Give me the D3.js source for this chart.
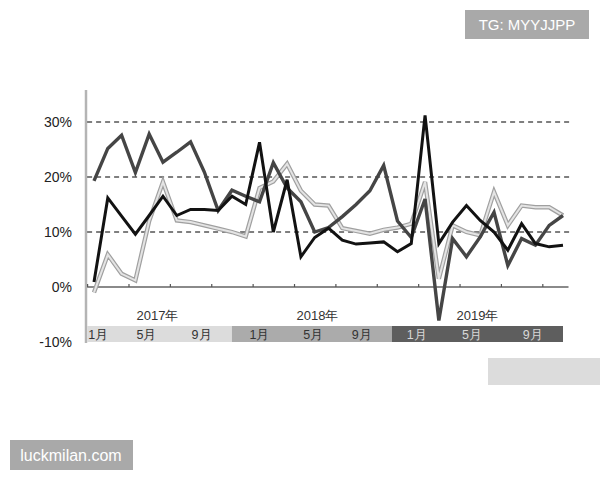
<!DOCTYPE html>
<html>
<head>
<meta charset="utf-8">
<script src="https://cdn.jsdelivr.net/npm/d3@7"></script>
<style>
  body { margin: 0; background: #fff; }
  svg { display: block; font-family: 'Liberation Sans', Arial, sans-serif; }
</style>
</head>
<body>
<svg width="600" height="480"></svg>
<script>
// month index 0 = 2017年1月 ... 34 = 2019年11月
let seriesDark = [19.3, 25.2, 27.6, 20.8, 27.8, 22.7, 24.5, 26.4, 20.9, 13.9, 17.6, 16.5,
  15.5, 22.6, 18, 15.5, 10, 10.8, 12.8, 15, 17.5, 22.1, 12, 9,
  16, -6.1, 8.8, 5.5, 9.1, 13.6, 3.9, 8.8, 7.6, 11.2, 13]
let seriesBlack = [0.9, 16.2, 12.9, 9.6, 13, 16.5, 13, 14.1, 14.1, 13.9, 16.5, 15,
  26.3, 10, 19.5, 5.5, 9, 10.7, 8.5, 7.8, 8, 8.2, 6.4, 7.9,
  31.2, 7.9, 11.8, 14.8, 12.1, 10, 6.7, 11.5, 7.9, 7.3, 7.6]
let seriesLight = [-1, 5.9, 2.4, 1.2, 12, 19.1, 12.1, 11.8, 11.2, 10.6, 10, 9.2,
  18, 19.2, 22.4, 17.5, 15, 14.8, 10.7, 10.2, 9.7, 10.4, 10.8, 11.5,
  19.1, 1.5, 11.2, 10, 9.4, 17.3, 11.2, 14.8, 14.5, 14.5, 13]

let yTicks = [30, 20, 10, 0, -10]
let gridTicks = [30, 20, 10]
let years = ['2017年', '2018年', '2019年']
let yearLabelAt = [4.6, 16.2, 27.8]
let yearBands = [[-0.5, 10], [10, 21.6], [21.6, 34]]
let monthLabels = ['1月', '5月', '9月']
let monthLabelAt = [[0.3, 3.8, 7.8], [12, 15.9, 19.4], [23.4, 27.4, 31.8]]
let quarterTicks = d3.range(-0.5, 33, 3)

let margin = { top: 90, left: 87, right: 30 }

let xScale = d3.scaleLinear()
  .domain([0, 34])
  .range([94, 563])

let yScale = d3.scaleLinear()
  .domain([-10, 30])
  .range([342, 122])

let svg = d3.select('svg')

// left axis bar
svg.append('line')
  .attr('x1', 86).attr('x2', 86)
  .attr('y1', margin.top).attr('y2', yScale(-10) + 1)
  .attr('stroke', '#b4b4b4')
  .attr('stroke-width', 2.5)

// dashed gridlines
svg.append('g')
  .selectAll('line')
  .data(gridTicks)
  .join('line')
  .attr('x1', xScale(-0.5)).attr('x2', xScale(34.5))
  .attr('y1', d => yScale(d)).attr('y2', d => yScale(d))
  .attr('stroke', '#555')
  .attr('stroke-width', 1.4)
  .attr('stroke-dasharray', '5,4')

// zero line with quarter ticks
let xAxis = d3.axisBottom(xScale)
  .tickValues(quarterTicks)
  .tickSize(-3)
  .tickFormat('')
let xg = svg.append('g')
  .attr('transform', 'translate(' + [0, yScale(0)] + ')')
  .call(xAxis)
xg.select('.domain')
  .attr('d', 'M' + xScale(-0.5) + ',0H' + xScale(34.4))
  .attr('stroke', '#8a8a8a')
  .attr('stroke-width', 2.2)
xg.selectAll('.tick line').attr('stroke', '#555').attr('stroke-width', 1.2)

// y labels
let yAxis = d3.axisLeft(yScale)
  .tickValues(yTicks)
  .tickSize(0)
  .tickPadding(0)
  .tickFormat(d => d + '%')
let yg = svg.append('g')
  .attr('transform', 'translate(' + [72, 0] + ')')
  .call(yAxis)
yg.select('.domain').remove()
yg.selectAll('text')
  .attr('font-size', 14)
  .attr('fill', '#222')
  .attr('font-family', "'Liberation Sans', Arial, sans-serif")

// year bands under the chart
let bandFill = ['#dcdcdc', '#ababab', '#5e5e5e']
let bandText = ['#333', '#333', '#d8d8d8']
svg.append('g')
  .selectAll('rect')
  .data(yearBands)
  .join('rect')
  .attr('x', d => xScale(d[0]))
  .attr('width', d => xScale(d[1]) - xScale(d[0]))
  .attr('y', 326)
  .attr('height', 16)
  .attr('fill', (d, i) => bandFill[i])

monthLabelAt.forEach((pos, yi) => {
  svg.append('g')
    .selectAll('text')
    .data(pos)
    .join('text')
    .attr('x', d => xScale(d))
    .attr('y', 339)
    .attr('text-anchor', 'middle')
    .attr('font-size', 12.5)
    .attr('fill', bandText[yi])
    .text((d, i) => monthLabels[i])
})

svg.append('g')
  .selectAll('text')
  .data(years)
  .join('text')
  .attr('x', (d, i) => xScale(yearLabelAt[i]))
  .attr('y', 320)
  .attr('text-anchor', 'middle')
  .attr('font-size', 13)
  .attr('fill', '#333')
  .text(d => d)

// lines
let line = d3.line()
  .x((d, i) => xScale(i))
  .y(d => yScale(d))

let plot = svg.append('g')
  .attr('fill', 'none')
  .attr('stroke-linejoin', 'miter')

plot.append('path')
  .attr('d', line(seriesLight))
  .attr('stroke', '#a0a0a0')
  .attr('stroke-width', 4.4)
plot.append('path')
  .attr('d', line(seriesLight))
  .attr('stroke', '#e4e4e4')
  .attr('stroke-width', 2)

plot.append('path')
  .attr('d', line(seriesDark))
  .attr('stroke', '#454545')
  .attr('stroke-width', 3.4)

plot.append('path')
  .attr('d', line(seriesBlack))
  .attr('stroke', '#121212')
  .attr('stroke-width', 3)

// grey block bottom right
svg.append('rect')
  .attr('x', 488).attr('y', 358)
  .attr('width', 112).attr('height', 27)
  .attr('fill', '#dcdcdc')

// watermarks
svg.append('rect')
  .attr('x', 465).attr('y', 10)
  .attr('width', 124).attr('height', 29)
  .attr('fill', '#a9a9a9')
svg.append('text')
  .attr('x', 527).attr('y', 30)
  .attr('text-anchor', 'middle')
  .attr('font-size', 15)
  .attr('fill', '#fff')
  .text('TG: MYYJJPP')

svg.append('rect')
  .attr('x', 10).attr('y', 440)
  .attr('width', 123).attr('height', 30)
  .attr('fill', '#a9a9a9')
svg.append('text')
  .attr('x', 71).attr('y', 461)
  .attr('text-anchor', 'middle')
  .attr('font-size', 16)
  .attr('fill', '#fff')
  .text('luckmilan.com')
</script>
</body>
</html>
